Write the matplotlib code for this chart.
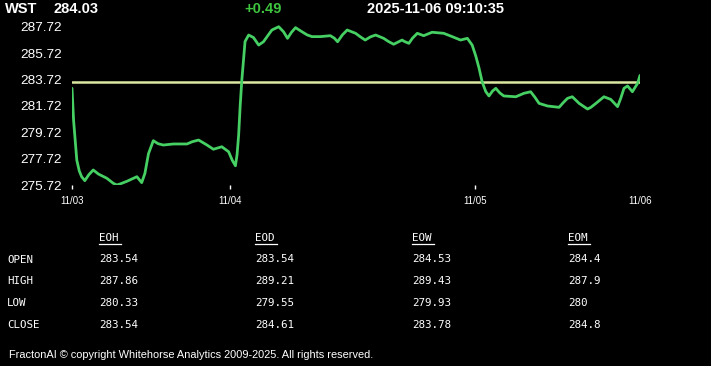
import matplotlib
matplotlib.use("Agg")
import matplotlib.pyplot as plt
from matplotlib.lines import Line2D

# ── Data ─────────────────────────────────────────────────────────────────────
SYMBOL = "WST"
LAST = "284.03"
CHANGE = "+0.49"
STAMP = "2025-11-06 09:10:35"
PREV_CLOSE = 283.54

# intraday periods (index) and price
periods = [0, 0.4, 1.2, 1.8, 2.4, 3.2, 4.2, 5.3, 6.6, 8.7, 10.3, 11.2, 12, 13.7,
           16.2, 17.4, 18.2, 19.1, 20.3, 21.5, 22.8, 25.3, 28.7, 30, 31.6, 33.7,
           35.3, 37.4, 39.1, 40, 40.8, 41.2, 41.6, 42, 42.4, 42.9, 43.2, 44.1,
           45.3, 46.6, 47.8, 48.9, 49.9, 51.6, 52.8, 53.8, 54.8, 55.8, 57.4,
           58.7, 59.9, 62, 64.5, 65.5, 66.3, 67.5, 68.7, 70.8, 72, 73.2, 74.5,
           75.8, 77.8, 79, 80.3, 82.4, 83, 84.1, 85, 86.2, 87.8, 89.9, 92.8,
           94.9, 97, 98.7, 99.9, 100.8, 101.6, 102.4, 103.3, 104.1, 105, 105.8,
           106.8, 107.8, 110.8, 112.8, 114.5, 115.5, 116.6, 118.7, 121.6, 122.6,
           123.7, 124.9, 126.6, 128.7, 129.5, 130.8, 132.8, 134.5, 136.2, 137,
           137.8, 138.7, 139.9, 141.2, 141.8]
prices = [283.05, 280.6, 277.6, 276.8, 276.35, 276.05, 276.5, 276.86, 276.55,
          276.23, 275.85, 275.72, 275.8, 276.0, 276.35, 275.9, 276.6, 278.1,
          279.08, 278.85, 278.75, 278.83, 278.83, 279.0, 279.13, 278.75, 278.43,
          278.62, 278.24, 277.6, 277.18, 278.0, 279.5, 281.8, 283.68, 285.5,
          286.6, 287.09, 286.9, 286.33, 286.58, 287.05, 287.47, 287.72, 287.34,
          286.84, 287.3, 287.65, 287.34, 287.1, 286.97, 286.97, 287.04, 286.85,
          286.58, 287.1, 287.47, 287.22, 286.95, 286.71, 286.95, 287.09, 286.84,
          286.6, 286.39, 286.71, 286.6, 286.46, 286.85, 287.22, 287.04, 287.3,
          287.22, 286.97, 286.71, 286.84, 286.33, 285.5, 284.6, 283.53, 282.8,
          282.47, 282.85, 283.05, 282.7, 282.47, 282.41, 282.67, 282.79, 282.4,
          281.91, 281.71, 281.61, 281.95, 282.29, 282.41, 281.91, 281.48, 281.6,
          281.91, 282.41, 282.21, 281.66, 282.3, 283.05, 283.23, 282.79, 283.43,
          284.03]

day_ticks = [0, 39.4, 100.5, 141.8]
day_labels = ["11/03", "11/04", "11/05", "11/06"]
price_ticks = [275.72, 277.72, 279.72, 281.72, 283.72, 285.72, 287.72]

# ── Summary table ────────────────────────────────────────────────────────────
row_names = ["OPEN", "HIGH", "LOW", "CLOSE"]
col_names = ["EOH", "EOD", "EOW", "EOM"]
eoh = ["283.54", "287.86", "280.33", "283.54"]
eod = ["283.54", "289.21", "279.55", "284.61"]
eow = ["284.53", "289.43", "279.93", "283.78"]
eom = ["284.4", "287.9", "280", "284.8"]

W, H = 711, 366
LINE_GREEN = "#46cf62"
REF_YELLOW = "#dbe8a2"
SANS = ["Liberation Sans", "DejaVu Sans"]
MONO = "DejaVu Sans Mono"


def fx(x):
    return x / W


def fy(y):
    return 1 - y / H


fig = plt.figure(figsize=(W / 100, H / 100), dpi=100, facecolor="black")
ax = fig.add_axes([fx(72), fy(185), (640 - 72) / W, (185 - 20) / H])
ax.set_facecolor("black")

ax.axhline(PREV_CLOSE, color=REF_YELLOW, linewidth=1.8, zorder=1)
ax.plot(periods, prices, color=LINE_GREEN, linewidth=2.0,
        solid_joinstyle="round", solid_capstyle="round", zorder=2)

ax.set_xlim(0, 141.8)
ax.set_ylim(275.72, 275.72 + 165 / 13.19)

ax.set_yticks(price_ticks)
ax.set_yticklabels([f"{v:.2f}" for v in price_ticks])
ax.tick_params(axis="y", length=0, pad=7.5, labelcolor="white", labelsize=9.7)
for lab in ax.get_yticklabels():
    lab.set_family(SANS)

ax.set_xticks(day_ticks)
ax.set_xticklabels(day_labels)
ax.tick_params(axis="x", length=3, width=1, color="white", pad=5,
               labelcolor="white", labelsize=7)
for lab in ax.get_xticklabels():
    lab.set_family(SANS)
ax.xaxis.get_major_ticks()[-1].tick1line.set_visible(False)

for s in ax.spines.values():
    s.set_visible(False)

# ── Header ───────────────────────────────────────────────────────────────────
hdr = dict(fontsize=10.5, fontweight="bold", va="center", family=SANS)
fig.text(fx(5), fy(9), SYMBOL, color="white", **hdr)
fig.text(fx(53), fy(9), LAST, color="white", **hdr)
fig.text(fx(244), fy(9), CHANGE, color="#3fc43f", **hdr)
fig.text(fx(367), fy(9), STAMP, color="white", **hdr)

# ── Table ────────────────────────────────────────────────────────────────────
col_x = [99, 255, 412, 568]
row_y = [259, 280.5, 302.5, 324.5]
cols = [eoh, eod, eow, eom]
for name, y in zip(row_names, row_y):
    fig.text(fx(7), fy(y + 1), name, color="white", fontsize=7.8,
             family=MONO, va="center")
for cx, head, vals in zip(col_x, col_names, cols):
    fig.text(fx(cx), fy(238), head, color="white", fontsize=7.8,
             family=MONO, va="center")
    fig.lines.append(Line2D([fx(cx), fx(cx + 22)], [fy(243.5), fy(243.5)],
                            transform=fig.transFigure, color="white",
                            linewidth=0.9))
    for v, y in zip(vals, row_y):
        fig.text(fx(cx), fy(y), v, color="white", fontsize=7.8,
                 family=MONO, va="center")

fig.text(fx(9), fy(355),
         "FractonAI \u00a9 copyright Whitehorse Analytics 2009-2025. All rights reserved.",
         color="white", fontsize=7.9, family=SANS, va="center")

fig.savefig("out.png", dpi=100, facecolor="black")
